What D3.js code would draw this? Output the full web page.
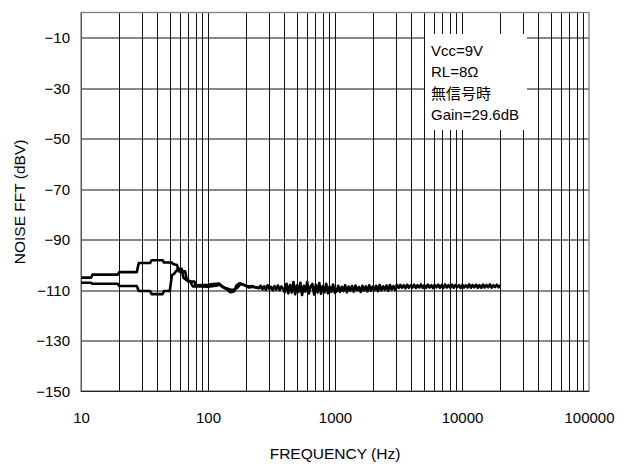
<!DOCTYPE html>
<html>
<head>
<meta charset="utf-8">
<script src="https://cdn.jsdelivr.net/npm/d3@7"></script>
<style>
  html, body { margin: 0; padding: 0; background: #fff; }
  svg text { font-family: "Liberation Sans", Arial, "Noto Sans CJK JP", sans-serif; fill: #000; }
</style>
</head>
<body>
<svg id="chart" width="630" height="464"></svg>
<script>
// Axis settings
const freqDomain = [10, 100000];
const dbDomain = [-150, 0];
const xTickValues = [10, 100, 1000, 10000, 100000];
const xTickLabels = ["10", "100", "1000", "10000", "100000"];
const yTickValues = [-10, -30, -50, -70, -90, -110, -130, -150];
const yTickLabels = ["\u221210", "\u221230", "\u221250", "\u221270", "\u221290", "\u2212110", "\u2212130", "\u2212150"];
const xTitle = "FREQUENCY (Hz)";
const yTitle = "NOISE FFT (dBV)";
const noteLines = ["Vcc=9V", "RL=8\u03A9", "無信号時", "Gain=29.6dB"];

// Low-frequency part of the two FFT sweeps (Hz, dBV)
const sweepAFreq = [10, 12, 12.3, 19.5, 20, 27.5, 28.5, 35, 36, 44, 45, 52, 53, 57, 59, 66, 68, 70, 78, 80, 100, 110, 122, 128, 140, 150, 160, 168, 178, 190, 205, 220, 235, 250];
const sweepADb   = [-105.0, -105.0, -103.8, -103.8, -102.8, -102.8, -99.2, -99.2, -98.1, -98.1, -99.0, -99.0, -99.6, -100.0, -102.5, -102.5, -105.5, -106.5, -106.5, -108.0, -107.8, -107.5, -107.3, -108.5, -109.5, -110.8, -110.5, -108.0, -107.2, -107.8, -108.5, -108.3, -108.8, -109.0];

const sweepBFreq = [10, 12, 12.3, 19.5, 20, 27.5, 28.5, 35, 36, 44, 45, 50, 52, 54, 58, 62, 64, 68, 72, 76, 90, 100, 115, 125, 135, 150, 162, 172, 180, 195, 210, 230, 250, 260];
const sweepBDb   = [-107.0, -107.0, -107.4, -107.4, -108.3, -108.3, -110.3, -110.3, -111.5, -111.5, -110.3, -110.3, -104.0, -103.5, -101.5, -101.5, -105.0, -106.0, -106.3, -108.5, -108.5, -108.6, -108.2, -107.8, -109.0, -109.7, -109.8, -108.8, -107.5, -108.0, -108.9, -108.6, -109.2, -109.0];

// Noise floor above 260 Hz, log-spaced FFT bins up to 20 kHz (dBV)
const noiseStartHz = 260;
const noiseEndHz = 20000;
const noiseDb = [
  -108.2, -109.6, -108.4, -109.8, -108.0, -109.5, -108.6, -110.0, -108.3, -109.7, -108.1, -109.9, -108.5, -109.4,
  -110.8, -107.4, -111.2, -107.9, -110.9, -106.7, -111.6, -108.0, -110.6, -107.0, -111.9, -108.2, -110.5, -106.6, -111.3,
  -108.4, -107.5, -111.7, -107.8, -110.9, -107.1, -111.4, -108.3, -110.8, -107.4, -111.2, -108.5, -110.6, -107.7, -111.0,
  -110.4, -108.2, -110.6, -108.6, -110.3, -108.0, -110.8, -108.5, -110.2, -108.3, -110.5, -108.1, -110.0, -108.7, -110.6,
  -108.2, -110.1, -108.4, -110.4, -108.0, -110.2, -108.5, -109.9, -108.2, -110.3, -107.9, -110.0, -108.4, -109.8, -108.1,
  -110.1, -107.9, -109.7, -108.3, -109.9, -107.8,
  -109.1, -107.9, -109.0, -108.0, -109.2, -107.8, -109.0, -108.1, -108.9, -107.8, -109.1, -108.0, -108.9, -107.7, -109.1,
  -108.0, -109.0, -107.8, -108.9, -108.0, -109.1, -107.9, -108.8, -107.8, -109.0, -108.0, -109.1, -107.7, -108.9, -108.0,
  -109.0, -107.8, -109.0, -107.9, -108.8, -108.0, -109.1, -107.8, -108.9, -108.0, -108.9, -107.7, -109.0, -107.9, -108.8,
  -107.8, -109.0, -108.0, -109.0, -107.8, -108.9, -107.9, -108.8, -107.7, -109.0, -108.0, -108.7, -107.8, -108.8, -107.9
];

const svg = d3.select("#chart");
const margin = { left: 81, top: 12.5, right: 41, bottom: 72.7 };
const W = 630, H = 464;
const iw = W - margin.left - margin.right;
const ih = H - margin.top - margin.bottom;

const x = d3.scaleLog().domain(freqDomain).range([0, iw]);
const y = d3.scaleLinear().domain(dbDomain).range([ih, 0]);

const g = svg.append("g").attr("transform", `translate(${margin.left},${margin.top})`);

// Vertical grid: 1..9 per decade
const gridFreqs = [];
for (let dec = 10; dec < freqDomain[1]; dec *= 10) {
  for (let k = 1; k <= 9; k++) gridFreqs.push(dec * k);
}
g.append("g").selectAll("line").data(gridFreqs).join("line")
  .attr("x1", d => Math.round(x(d)) + 0.5).attr("x2", d => Math.round(x(d)) + 0.5)
  .attr("y1", 0).attr("y2", ih)
  .attr("stroke", "#111").attr("stroke-width", 1);

// Horizontal grid at labelled levels
g.append("g").selectAll("line").data(yTickValues.filter(v => v > dbDomain[0])).join("line")
  .attr("x1", 0).attr("x2", iw)
  .attr("y1", d => Math.round(y(d)) + 0.5).attr("y2", d => Math.round(y(d)) + 0.5)
  .attr("stroke", "#111").attr("stroke-width", 1);

// Frame
g.append("rect").attr("x", 0).attr("y", 0).attr("width", iw).attr("height", ih)
  .attr("fill", "none").attr("stroke", "#808080").attr("stroke-width", 1.3);
g.append("line").attr("x1", 0).attr("x2", iw).attr("y1", ih).attr("y2", ih)
  .attr("stroke", "#222").attr("stroke-width", 1.3);

// Axes (labels only, drawn through d3 axis generators)
const xAxis = d3.axisBottom(x).tickValues(xTickValues)
  .tickFormat((d, i) => xTickLabels[i]).tickSize(0).tickPadding(21);
const xa = g.append("g").attr("transform", `translate(0,${ih})`).call(xAxis);
xa.select(".domain").remove();
xa.selectAll("text").attr("font-size", 15).style("font-family", null);

const yAxis = d3.axisLeft(y).tickValues(yTickValues)
  .tickFormat((d, i) => yTickLabels[i]).tickSize(0).tickPadding(11);
const ya = g.append("g").call(yAxis);
ya.select(".domain").remove();
ya.selectAll("text").attr("font-size", 15).style("font-family", null);

// Traces
const line = d3.line().x(d => x(d[0])).y(d => y(d[1]));
const sweepA = sweepAFreq.map((f, i) => [f, sweepADb[i]]);
const lnStart = Math.log10(noiseStartHz), lnEnd = Math.log10(noiseEndHz);
noiseDb.forEach((v, i) => {
  const f = Math.pow(10, lnStart + (lnEnd - lnStart) * i / (noiseDb.length - 1));
  sweepA.push([f, v]);
});
const sweepB = sweepBFreq.map((f, i) => [f, sweepBDb[i]]);

[sweepB, sweepA].forEach(data => {
  g.append("path").datum(data).attr("d", line)
    .attr("fill", "none").attr("stroke", "#000")
    .attr("stroke-width", 2.6).attr("stroke-linejoin", "round");
});

// Condition note
const note = svg.append("g");
note.append("rect").attr("x", 425).attr("y", 34).attr("width", 102).attr("height", 96).attr("fill", "#fff");
note.selectAll("text").data(noteLines).join("text")
  .attr("x", 431).attr("y", (d, i) => 55.5 + i * 21.5)
  .attr("font-size", 15).text(d => d);

// Axis titles
svg.append("text").attr("x", margin.left + iw / 2).attr("y", 459)
  .attr("text-anchor", "middle").attr("font-size", 15.5).text(xTitle);
svg.append("text")
  .attr("transform", `translate(25,${margin.top + ih / 2}) rotate(-90)`)
  .attr("text-anchor", "middle").attr("font-size", 15.5).text(yTitle);
</script>
</body>
</html>
